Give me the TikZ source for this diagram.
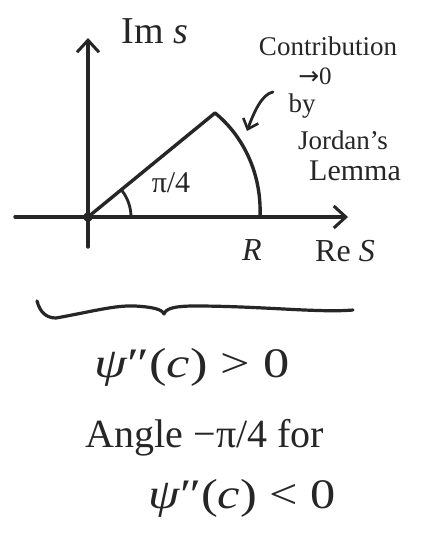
\documentclass[tikz,border=0pt]{standalone}
\usepackage{fontspec}
\setmainfont{Liberation Serif}
\newfontfamily\symfont{DejaVu Sans}
\usetikzlibrary{arrows.meta}
\begin{document}
\begin{tikzpicture}[x=1pt,y=-1pt,
  ink/.style={draw=black!85, line width=3.4pt, line cap=round, line join=round},
  arrowink/.style={ink, -{Straight Barb[length=12pt,width=22pt,line width=3pt]}},
  hand/.style={inner sep=0pt, text=black!85},
  big/.style={hand, font=\fontsize{40}{46}\selectfont},
  mid/.style={hand, font=\fontsize{27}{31}\selectfont},
  axlab/.style={hand, font=\fontsize{32}{36}\selectfont}]
\useasboundingbox (0,0) rectangle (430,539);
\fill[white] (0,0) rectangle (430,539);
% axes
\coordinate (xs) at (15,217);
\coordinate (xe) at (348,217);
\coordinate (ys) at (88,247);
\coordinate (ye) at (88,38);
\coordinate (O) at (88,217);
\coordinate (apex) at (215,113);
\coordinate (Rend) at (260,217);
\draw[arrowink] (xs) -- (xe);
\draw[arrowink] (ys) -- (ye);
% sector
\draw[ink] (O) -- (apex) .. controls (240,133) and (262,170) .. (Rend);
\fill[black!85] (O) circle[radius=4.8pt];
% angle arc
\draw[ink, line width=2.8pt] ([shift={(43pt,0pt)}]O) arc[start angle=0, end angle=38, radius=43pt];
\node[hand, font=\fontsize{30}{34}\selectfont] (ang) at (171,183) {π/4};
% axis labels
\node[axlab, font=\fontsize{38}{42}\selectfont] (im) at (155,31) {Im \textit{s}};
\node[axlab] (re) at (345,251) {Re \textit{S}};
\node[axlab] (R) at (252,250) {\textit{R}};
% annotation
\node[mid] (c1) at (328,46) {Contribution};
\node[mid, font=\fontsize{25}{28}\selectfont, anchor=base] (c2) at (315,84) {{\symfont →}0};
\node[mid, anchor=base] (c3) at (302,112) {by};
\node[mid] (c4) at (343,140) {Jordan’s};
\node[mid, font=\fontsize{30}{34}\selectfont] (c5) at (355,171) {Lemma};
\coordinate (pa) at (273,92);
\coordinate (pb) at (247,131);
\draw[ink, line width=2.8pt, -{Straight Barb[length=9pt,width=16pt,line width=2.6pt]}] (pa) .. controls (262,94) and (254,112) .. (pb);
% brace
\draw[ink, line width=3.2pt] (37,301) .. controls (40,312) and (46,318) .. (56,318)
  .. controls (90,312) and (115,305) .. (135,306)
  .. controls (152,307) and (162,309) .. (164,314)
  .. controls (166,308) and (176,306) .. (195,306)
  .. controls (260,306) and (320,313) .. (353,310);
% bottom text
\node[big, font=\fontsize{42}{48}\selectfont\addfontfeatures{FakeStretch=1.25}] (t1) at (192,367) {\textit{ψ}″(\textit{c}) > 0};
\node[big] (t2) at (205,438) {Angle −π/4 for};
\node[big, font=\fontsize{42}{48}\selectfont\addfontfeatures{FakeStretch=1.2}] (t3) at (242,498) {\textit{ψ}″(\textit{c}) < 0};
\end{tikzpicture}
\end{document}
